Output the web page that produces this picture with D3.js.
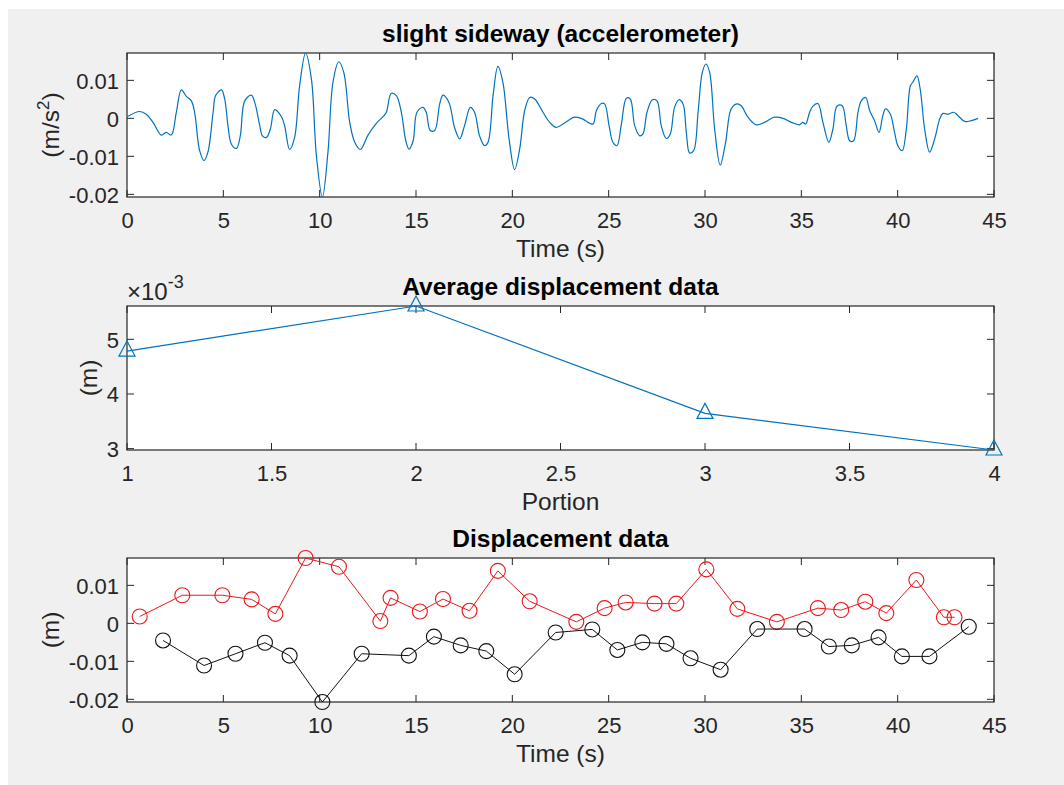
<!DOCTYPE html>
<html><head><meta charset="utf-8">
<script src="https://cdn.jsdelivr.net/npm/d3@7"></script>
<style>body{margin:0;background:#fff}svg{display:block}</style>
</head><body>
<svg id="chart" width="1064" height="785"></svg>
<script>
// ---------- data ----------
const accelTime = [0,0.66,1.0,1.35,1.78,2.04,2.3,2.56,2.82,3.08,3.34,3.51,3.77,4.0,4.2,4.47,4.6,4.9,5.07,5.24,5.42,5.68,5.88,6.11,6.45,6.63,6.89,7.03,7.24,7.44,7.67,8.01,8.18,8.44,8.7,8.96,9.27,9.57,9.83,10.14,10.43,10.69,10.99,11.25,11.56,11.82,12.11,12.51,12.94,13.3,13.46,13.72,13.98,14.24,14.47,14.64,14.85,15.05,15.36,15.53,15.74,15.97,16.23,16.4,16.71,17.0,17.27,17.52,17.82,18.04,18.3,18.56,18.74,19.0,19.25,19.51,19.83,20.12,20.38,20.64,20.9,21.16,21.59,21.94,22.28,22.71,23.24,23.67,23.93,24.19,24.36,24.62,24.79,25.02,25.22,25.43,25.66,25.92,26.12,26.35,26.61,26.78,26.99,27.27,27.51,27.73,27.99,28.2,28.42,28.65,28.86,29.03,29.2,29.41,29.64,29.86,30.05,30.24,30.5,30.79,31.07,31.36,31.66,31.88,32.23,32.66,33.09,33.61,34.05,34.48,34.91,35.08,35.22,35.43,35.6,35.86,36.12,36.43,36.64,36.85,37.12,37.33,37.51,37.71,37.94,38.11,38.34,38.55,38.8,39.03,39.23,39.37,39.62,39.84,40.01,40.24,40.45,40.66,40.79,41.0,41.17,41.4,41.66,41.92,42.18,42.35,42.61,42.91,43.13,43.48,43.82,44.17];
const accelValue = [0.0004,0.0018,0.0011,-0.00105,-0.0044,-0.0037,-0.0044,0.0016,0.0075,0.0058,0.0046,0.0016,-0.0085,-0.0111,-0.0089,0.0016,0.006,0.0075,0.0051,-0.0019,-0.0068,-0.0079,-0.0046,0.0046,0.0061,0.0042,-0.0019,-0.0046,-0.005,-0.0028,0.0023,0.0005,-0.0019,-0.0082,-0.005,0.0086,0.0172,0.0104,-0.0098,-0.0207,-0.0089,0.0095,0.0149,0.0121,-0.00105,-0.0063,-0.0082,-0.0044,-0.0013,0.0005,0.0016,0.0066,0.006,0.0016,-0.0059,-0.0081,-0.0059,0.0016,0.0029,0.0016,-0.0032,-0.0032,0.0038,0.0061,0.0042,-0.0024,-0.0054,-0.0019,0.0029,0.0016,-0.0046,-0.0072,-0.0063,0.006,0.0137,0.0095,-0.0054,-0.0135,-0.0081,0.002,0.0055,0.0051,0.0016,-0.00105,-0.0024,-0.0012,0.0003,-0.0002,-0.00105,-0.0015,0.002,0.0039,0.0038,-0.0019,-0.0063,-0.0072,-0.0015,0.0053,0.0051,-0.0019,-0.0046,-0.0041,0.0016,0.0049,0.0046,-0.0019,-0.0053,-0.0041,0.0029,0.0049,0.0038,-0.0037,-0.0091,-0.0085,0.0016,0.0121,0.0143,0.0121,-0.0028,-0.0123,-0.0063,0.0025,0.0038,0.0033,0.0003,-0.0017,-0.00105,0.0003,0,-0.00105,-0.0017,-0.00105,-0.0015,0.0016,0.0032,0.0039,-0.00105,-0.0063,-0.0028,0.0032,0.0033,-0.0019,-0.0059,-0.0059,0.0016,0.0046,0.0055,0.002,-0.0006,-0.0037,0.0007,0.0025,0.0011,-0.0037,-0.0072,-0.0085,-0.0028,0.0086,0.0095,0.0112,0.0077,-0.0028,-0.0089,-0.0054,-0.0002,0.0013,0.0011,0.0016,0.0007,-0.0008,-0.0006,0];

const portions = [1, 2, 3, 4];
const avgDisplacement = [0.004785, 0.00561, 0.003645, 0.002975];

const peakTime  = [0.66,2.87,4.95,6.47,7.7,9.27,11.0,13.15,13.68,15.2,16.4,17.78,19.25,20.9,23.32,24.79,25.88,27.38,28.51,30.07,31.68,33.73,35.86,37.07,38.32,39.41,40.97,42.4,42.95];
const peakValue = [0.0018,0.0074,0.0074,0.0063,0.0025,0.0172,0.0149,0.0006,0.0067,0.0031,0.0064,0.0033,0.0138,0.0058,0.0004,0.004,0.0055,0.0052,0.0052,0.0142,0.0038,0.0004,0.004,0.0035,0.0057,0.0027,0.0114,0.0016,0.0016];
const troughTime  = [1.87,4.0,5.63,7.16,8.44,10.14,12.18,14.63,15.93,17.32,18.65,20.12,22.25,24.15,25.45,26.75,28.0,29.25,30.81,32.71,35.17,36.43,37.62,39.01,40.22,41.65,43.69];
const troughValue = [-0.0045,-0.0111,-0.008,-0.0051,-0.0085,-0.0207,-0.008,-0.0085,-0.0035,-0.0058,-0.0073,-0.0134,-0.0024,-0.0016,-0.007,-0.005,-0.0054,-0.0092,-0.0122,-0.0015,-0.0015,-0.0061,-0.0058,-0.0037,-0.0087,-0.0087,-0.0009];

const timeTicks = [0,5,10,15,20,25,30,35,40,45];
const accelTicks = [-0.02,-0.01,0,0.01];
const portionTicks = [1,1.5,2,2.5,3,3.5,4];
const avgTicks = [0.003,0.004,0.005];
const dispTicks = [-0.02,-0.01,0,0.01];

// ---------- drawing ----------
const svg = d3.select("#chart");
const FONT = "'Liberation Sans', Arial, Helvetica, sans-serif";
const AX = "#262626";
const TICK_FS = 22, LABEL_FS = 24.5, TITLE_FS = 24.5;
svg.append("rect").attr("x",8).attr("y",9).attr("width",1056).attr("height",776).attr("fill","#f0f0f0");

const L = 127, R = 994;

function panel(o){
  const x = d3.scaleLinear().domain(o.xDomain).range([L,R]);
  const y = d3.scaleLinear().domain(o.yDomain).range([o.bottom,o.top]);
  const g = svg.append("g");
  g.append("rect").attr("x",L).attr("y",o.top).attr("width",R-L).attr("height",o.bottom-o.top).attr("fill","#fff");
  const tl = 7;
  const xa = d3.axisBottom(x).tickValues(o.xTicks).tickSize(0).tickFormat(o.xFmt);
  const xg = g.append("g").attr("transform",`translate(0,${o.bottom})`).call(xa);
  xg.select(".domain").remove();
  xg.selectAll("text").attr("dy",null).attr("y",31).attr("font-size",TICK_FS).attr("font-family",FONT).attr("fill",AX);
  o.xTicks.forEach(t=>{
    g.append("line").attr("x1",x(t)).attr("x2",x(t)).attr("y1",o.bottom).attr("y2",o.bottom-tl).attr("stroke",AX);
    g.append("line").attr("x1",x(t)).attr("x2",x(t)).attr("y1",o.top).attr("y2",o.top+tl).attr("stroke",AX);
  });
  const ya = d3.axisLeft(y).tickValues(o.yTicks).tickSize(0).tickFormat(o.yFmt);
  const yg = g.append("g").attr("transform",`translate(${L},0)`).call(ya);
  yg.select(".domain").remove();
  yg.selectAll("text").attr("x",-8).attr("dy","0.36em").attr("font-size",TICK_FS).attr("font-family",FONT).attr("fill",AX);
  o.yTicks.forEach(t=>{
    g.append("line").attr("x1",L).attr("x2",L+tl).attr("y1",y(t)).attr("y2",y(t)).attr("stroke",AX);
    g.append("line").attr("x1",R).attr("x2",R-tl).attr("y1",y(t)).attr("y2",y(t)).attr("stroke",AX);
  });
  g.append("rect").attr("x",L).attr("y",o.top).attr("width",R-L).attr("height",o.bottom-o.top)
    .attr("fill","none").attr("stroke",AX).attr("stroke-width",1.2);
  g.append("text").attr("x",(L+R)/2).attr("y",o.top-11).attr("text-anchor","middle")
    .attr("font-family",FONT).attr("font-weight","bold").attr("font-size",TITLE_FS).attr("fill","#000").text(o.title);
  g.append("text").attr("x",(L+R)/2).attr("y",o.bottom+60).attr("text-anchor","middle")
    .attr("font-family",FONT).attr("font-size",LABEL_FS).attr("fill",AX).text(o.xLabel);
  const yl = g.append("text").attr("transform",`translate(${o.yLabelX},${(o.top+o.bottom)/2}) rotate(-90)`)
    .attr("text-anchor","middle").attr("dy","0.35em").attr("font-family",FONT).attr("font-size",LABEL_FS).attr("fill",AX);
  o.yLabel(yl);
  return {g,x,y};
}

const fmt2 = d=>d===0?"0":d3.format(".2f")(d).replace("\u2212","-");

// Panel 1
const p1 = panel({top:53,bottom:197,xDomain:[0,45],yDomain:d3.extent(accelValue),
  xTicks:timeTicks,yTicks:accelTicks,xFmt:d3.format("d"),yFmt:fmt2,
  title:"slight sideway (accelerometer)",xLabel:"Time (s)",yLabelX:50,
  yLabel:t=>{t.append("tspan").text("(m/s");t.append("tspan").attr("font-size",17).attr("dy",-10).text("2");t.append("tspan").attr("dy",10).text(")");}});
svg.append("clipPath").attr("id","c1").append("rect").attr("x",L).attr("y",53).attr("width",R-L).attr("height",144);
const pts1 = accelTime.map((t,i)=>[t,accelValue[i]]);
p1.g.append("path").datum(pts1).attr("clip-path","url(#c1)")
  .attr("d",d3.line().x(d=>p1.x(d[0])).y(d=>p1.y(d[1])).curve(d3.curveCatmullRom.alpha(0.5)))
  .attr("fill","none").attr("stroke","#0072BD").attr("stroke-width",1.2);

// Panel 2
const p2 = panel({top:306,bottom:450,xDomain:[1,4],yDomain:d3.extent(avgDisplacement),
  xTicks:portionTicks,yTicks:avgTicks,xFmt:d=>String(d),yFmt:d=>String(Math.round(d*1000)),
  title:"Average displacement data",xLabel:"Portion",yLabelX:88,
  yLabel:t=>t.text("(m)")});
const ex = p2.g.append("text").attr("x",127).attr("y",300).attr("font-family",FONT).attr("font-size",24).attr("fill",AX);
ex.append("tspan").text("\u00d710");
ex.append("tspan").attr("font-size",18).attr("dy",-12).text("-3");
const pts2 = portions.map((p,i)=>[p,avgDisplacement[i]]);
p2.g.append("path").datum(pts2).attr("d",d3.line().x(d=>p2.x(d[0])).y(d=>p2.y(d[1])))
  .attr("fill","none").attr("stroke","#0072BD").attr("stroke-width",1.2);
p2.g.selectAll("path.tri").data(pts2).join("path").attr("class","tri")
  .attr("transform",d=>`translate(${p2.x(d[0])},${p2.y(d[1])})`)
  .attr("d","M0,-10L8,5L-8,5Z").attr("fill","none").attr("stroke","#0072BD").attr("stroke-width",1.2);

// Panel 3
const allDisp = peakValue.concat(troughValue);
const p3 = panel({top:558,bottom:702,xDomain:[0,45],yDomain:d3.extent(allDisp),
  xTicks:timeTicks,yTicks:dispTicks,xFmt:d3.format("d"),yFmt:fmt2,
  title:"Displacement data",xLabel:"Time (s)",yLabelX:50,
  yLabel:t=>t.text("(m)")});
function series(times,vals,color){
  const pts = times.map((t,i)=>[t,vals[i]]);
  p3.g.append("path").datum(pts).attr("d",d3.line().x(d=>p3.x(d[0])).y(d=>p3.y(d[1])))
    .attr("fill","none").attr("stroke",color).attr("stroke-width",1);
  p3.g.append("g").selectAll("circle").data(pts).join("circle")
    .attr("cx",d=>p3.x(d[0])).attr("cy",d=>p3.y(d[1])).attr("r",7.5)
    .attr("fill","none").attr("stroke",color).attr("stroke-width",1.1);
}
series(peakTime,peakValue,"#e8191c");
series(troughTime,troughValue,"#111");
</script>
</body></html>
